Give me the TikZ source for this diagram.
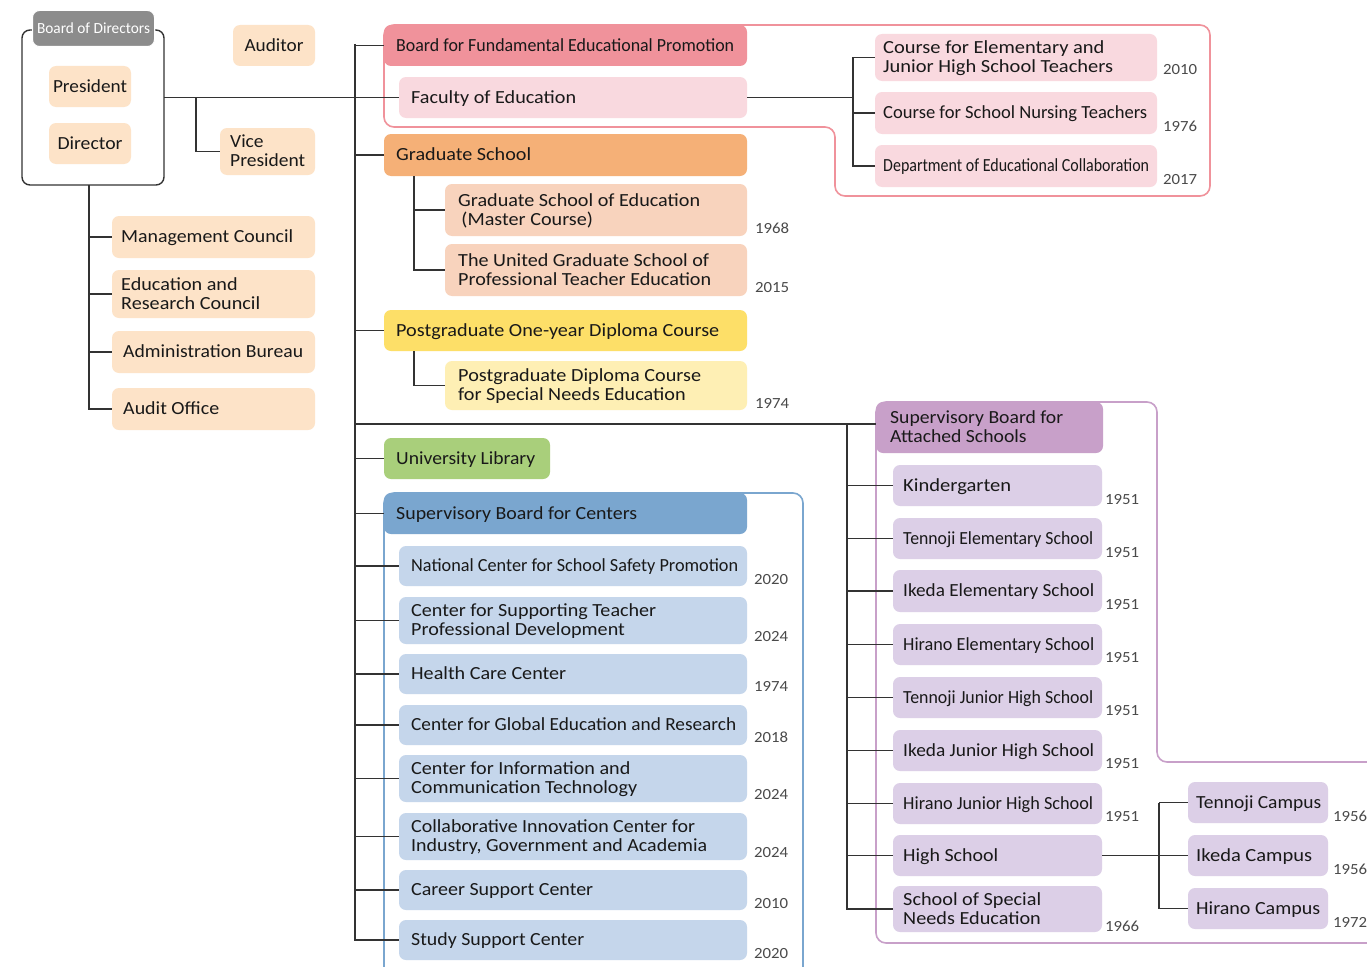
\documentclass[tikz,border=0pt]{standalone}
\usepackage{fontspec}
\usepackage{graphicx}
\setmainfont{Carlito}
\usetikzlibrary{calc}
\definecolor{peach}{HTML}{FDE3C8}
\definecolor{pinkD}{HTML}{F0929B}
\definecolor{pinkL}{HTML}{F9D9DF}
\definecolor{orangeD}{HTML}{F5B077}
\definecolor{orangeL}{HTML}{F8D3BD}
\definecolor{yellowD}{HTML}{FDDF68}
\definecolor{yellowL}{HTML}{FEEFB4}
\definecolor{greenD}{HTML}{A9CF7B}
\definecolor{blueD}{HTML}{7AA6CF}
\definecolor{blueL}{HTML}{C5D6EB}
\definecolor{purpleD}{HTML}{C8A0C9}
\definecolor{purpleL}{HTML}{DCCFE7}
\definecolor{tabgray}{HTML}{8C8C8C}
\definecolor{linec}{HTML}{333333}
\definecolor{yrc}{HTML}{4A4A4A}
\newlength\fitlen
\newcommand{\fitbox}[2]{%
  \settowidth{\fitlen}{\begin{tabular}{@{}l@{}}#2\end{tabular}}%
  \pgfmathsetmacro\fitsx{#1/\fitlen}%
  \scalebox{\fitsx}[1]{\begin{tabular}{@{}l@{}}#2\end{tabular}}}
\newcommand{\bx}[9][11]{%
  \pgfmathsetmacro\bxw{#6-#4}\pgfmathsetmacro\bxh{#7-#5}%
  \node[box, fill=#3, minimum width=\bxw pt, minimum height=\bxh pt] (#2) at (#4,#5) {};
  \node[lbl] (#2-t) at ([xshift=#1pt, yshift=-2pt]#2.west) {\fitbox{#8}{#9}};}
\newcommand{\bxc}[8]{%
  \pgfmathsetmacro\bxw{#5-#3}\pgfmathsetmacro\bxh{#6-#4}%
  \node[box, fill=#2, minimum width=\bxw pt, minimum height=\bxh pt] (#1) at (#3,#4) {};
  \node[lbl, anchor=center] (#1-t) at ([yshift=-2pt]#1.center) {\fitbox{#7}{#8}};}
\newcommand{\yr}[4]{\node[yr] (#1) at ([yshift=-2.5pt]#2,#3) {\fitbox{34}{#4}};}
\begin{document}
\begin{tikzpicture}[x=1pt,y=-1pt,
  box/.style={rounded corners=7pt, draw=none, inner sep=0pt, outer sep=0pt, anchor=north west},
  lbl/.style={anchor=west, align=left, inner sep=0pt, font=\fontsize{18.5}{19}\selectfont, text=black!90},
  yr/.style={anchor=west, inner sep=0pt, font=\fontsize{15.5}{16}\selectfont, text=yrc},
  conn/.style={draw=linec, line width=1.4pt},
  outl/.style={line width=1.6pt, rounded corners=10pt}]
\clip (0,0) rectangle (1367,966);
\fill[white] (0,0) rectangle (1367,966);

% ---------- group outlines ----------
\draw[outl, draw=pinkD] (384,127) -- (384,25) -- (1210,25) -- (1210,196) -- (835,196) -- (835,127) -- cycle;
\draw[outl, draw=blueD] (384,990) -- (384,493) -- (803,493) -- (803,990);
\draw[outl, draw=purpleD] (1400,943) -- (876,943) -- (876,402) -- (1157,402) -- (1157,762) -- (1400,762);

% ---------- left: board ----------
\node[draw=linec, line width=1.4pt, rounded corners=8pt, minimum width=142pt, minimum height=155pt, inner sep=0pt, outer sep=0pt, anchor=north west] (bod) at (22,30) {};
\node[fill=tabgray, draw=white, line width=1pt, rounded corners=7pt, minimum width=122pt, minimum height=36pt, inner sep=0pt, anchor=north west] (bodtab) at (32,10) {};
\node[font=\fontsize{15.5}{16}\selectfont, text=white, inner sep=0pt] (bodtab-t) at ([yshift=-2pt]bodtab.center) {\fitbox{113}{Board of Directors}};
\bxc{pres}{peach}{49}{66}{131}{107}{74}{President}
\bxc{dir}{peach}{49}{123}{131}{164}{65}{Director}
\bxc{aud}{peach}{233}{25}{315}{66}{59}{Auditor}
\bx[10]{vp}{peach}{220}{128}{315}{175}{75}{Vice\\President}
\bx[9]{mc}{peach}{112}{216}{315}{258}{172}{Management Council}
\bx[9]{erc}{peach}{112}{270}{315}{318}{139}{Education and\\Research Council}
\bx[11]{ab}{peach}{112}{331}{315}{373}{180}{Administration Bureau}
\bx[11]{ao}{peach}{112}{388}{315}{430}{96}{Audit Office}

% ---------- middle column ----------
\bx[12]{bfep}{pinkD}{384}{25}{747}{66}{338}{Board for Fundamental Educational Promotion}
\bx[12]{fedu}{pinkL}{399}{77}{747}{118}{165}{Faculty of Education}
\bx[8]{ce}{pinkL}{875}{34}{1157}{81}{230}{Course for Elementary and\\Junior High School Teachers}
\bx[8]{cn}{pinkL}{875}{92}{1157}{134}{264}{Course for School Nursing Teachers}
\bx[8]{dec}{pinkL}{875}{145}{1157}{187}{266}{Department of Educational Collaboration}
\yr{y-ce}{1163}{69}{2010}
\yr{y-cn}{1163}{126}{1976}
\yr{y-dec}{1163}{179}{2017}

\bx[12]{gs}{orangeD}{384}{134}{747}{176}{135}{Graduate School}
\bx[13]{gse}{orangeL}{445}{184}{747}{236}{242}{Graduate School of Education\\\hspace*{3pt}(Master Course)}
\bx[13]{ugs}{orangeL}{445}{244}{747}{296}{253}{The United Graduate School of\\Professional Teacher Education}
\yr{y-gse}{755}{228}{1968}
\yr{y-ugs}{755}{287}{2015}

\bx[12]{pg}{yellowD}{384}{310}{747}{351}{323}{Postgraduate One-year Diploma Course}
\bx[13]{pgs}{yellowL}{445}{361}{747}{410}{243}{Postgraduate Diploma Course\\for Special Needs Education}
\yr{y-pgs}{755}{403}{1974}

\bx[12]{lib}{greenD}{384}{438}{550}{479}{139}{University Library}
\bx[12]{sbc}{blueD}{384}{493}{747}{534}{241}{Supervisory Board for Centers}
\bx[12]{c1}{blueL}{399}{546}{747}{586}{327}{National Center for School Safety Promotion}
\bx[12]{c2}{blueL}{399}{597}{747}{644}{245}{Center for Supporting Teacher\\Professional Development}
\bx[12]{c3}{blueL}{399}{654}{747}{694}{155}{Health Care Center}
\bx[12]{c4}{blueL}{399}{705}{747}{745}{325}{Center for Global Education and Research}
\bx[12]{c5}{blueL}{399}{755}{747}{802}{226}{Center for Information and\\Communication Technology}
\bx[12]{c6}{blueL}{399}{813}{747}{860}{296}{Collaborative Innovation Center for\\Industry, Government and Academia}
\bx[12]{c7}{blueL}{399}{870}{747}{910}{182}{Career Support Center}
\bx[12]{c8}{blueL}{399}{920}{747}{960}{173}{Study Support Center}
\yr{y-c1}{754}{579}{2020}
\yr{y-c2}{754}{636}{2024}
\yr{y-c3}{754}{686}{1974}
\yr{y-c4}{754}{737}{2018}
\yr{y-c5}{754}{794}{2024}
\yr{y-c6}{754}{852}{2024}
\yr{y-c7}{754}{903}{2010}
\yr{y-c8}{754}{953}{2020}

% ---------- right: attached schools ----------
\bx[14]{sba}{purpleD}{876}{402}{1103}{453}{173}{Supervisory Board for\\Attached Schools}
\bx[10]{s1}{purpleL}{893}{465}{1102}{506}{108}{Kindergarten}
\bx[10]{s2}{purpleL}{893}{518}{1102}{559}{190}{Tennoji Elementary School}
\bx[10]{s3}{purpleL}{893}{570}{1102}{612}{191}{Ikeda Elementary School}
\bx[10]{s4}{purpleL}{893}{624}{1102}{665}{191}{Hirano Elementary School}
\bx[10]{s5}{purpleL}{893}{677}{1102}{718}{190}{Tennoji Junior High School}
\bx[10]{s6}{purpleL}{893}{730}{1102}{771}{191}{Ikeda Junior High School}
\bx[10]{s7}{purpleL}{893}{783}{1102}{824}{190}{Hirano Junior High School}
\bx[10]{s8}{purpleL}{893}{835}{1102}{876}{95}{High School}
\bx[10]{s9}{purpleL}{893}{886}{1102}{932}{138}{School of Special\\Needs Education}
\yr{y-s1}{1105}{499}{1951}
\yr{y-s2}{1105}{552}{1951}
\yr{y-s3}{1105}{604}{1951}
\yr{y-s4}{1105}{657}{1951}
\yr{y-s5}{1105}{710}{1951}
\yr{y-s6}{1105}{763}{1951}
\yr{y-s7}{1105}{816}{1951}
\yr{y-s9}{1105}{926}{1966}
\bx[8]{k1}{purpleL}{1188}{782}{1328}{823}{125}{Tennoji Campus}
\bx[8]{k2}{purpleL}{1188}{835}{1328}{876}{116}{Ikeda Campus}
\bx[8]{k3}{purpleL}{1188}{888}{1328}{929}{124}{Hirano Campus}
\yr{y-k1}{1333}{816}{1956}
\yr{y-k2}{1333}{869}{1956}
\yr{y-k3}{1333}{922}{1972}

% ---------- connectors ----------
\coordinate (T0) at (355,44);
\coordinate (T1) at (355,941);
\coordinate (vpj) at (196,98);
\coordinate (LV) at (89,185);
\coordinate (CC) at (853,58);
\coordinate (sbaj) at ($(sba.north west)+(0,22)$);
\coordinate (SV) at (847,424);
\coordinate (CV) at (1159,803);
\coordinate (GJ) at ($(gs.south west)+(30,0)$);
\coordinate (PJ) at ($(pg.south west)+(30,0)$);
\draw[conn] (T0) -- (T1);
\draw[conn] (bfep.west -| T0) -- (bfep.west);
\draw[conn] (bod.east |- fedu.west) -- (fedu.west);
\draw[conn] (vpj) |- (vp.west);
\draw[conn] (LV) |- (ao.west);
\foreach \n in {mc,erc,ab} \draw[conn] (\n.west -| LV) -- (\n.west);
\draw[conn] (fedu.east) -- (fedu.east -| CC);
\draw[conn] (ce.west -| CC) |- (dec.west);
\foreach \n in {ce,cn} \draw[conn] (\n.west -| CC) -- (\n.west);
\draw[conn] (gs.west -| T0) -- (gs.west);
\draw[conn] (GJ) |- (ugs.west);
\draw[conn] (gse.west -| GJ) -- (gse.west);
\draw[conn] (pg.west -| T0) -- (pg.west);
\draw[conn] (PJ) |- (pgs.west);
\draw[conn] (sbaj -| T0) -- (sbaj);
\draw[conn] (lib.west -| T0) -- (lib.west);
\draw[conn] (sbc.west -| T0) -- (sbc.west);
\foreach \n in {c1,c2,c3,c4,c5,c6,c7,c8} \draw[conn] (\n.west -| T0) -- (\n.west);
\draw[conn] (SV) |- (s9.west);
\foreach \n in {s1,s2,s3,s4,s5,s6,s7,s8} \draw[conn] (\n.west -| SV) -- (\n.west);
\draw[conn] (s8.east) -- (s8.east -| CV);
\draw[conn] (CV) |- (k3.west);
\foreach \n in {k1,k2} \draw[conn] (\n.west -| CV) -- (\n.west);
\end{tikzpicture}
\end{document}
